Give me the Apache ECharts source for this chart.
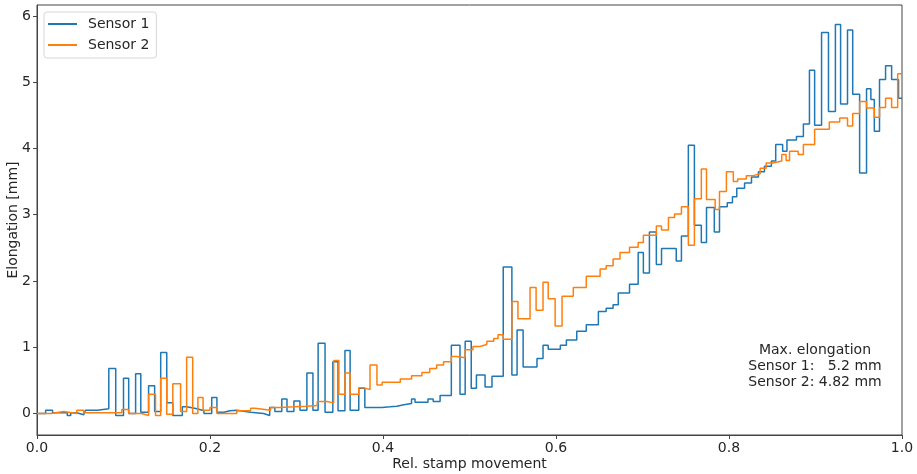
<!DOCTYPE html>
<html>
<head>
<meta charset="utf-8">
<script src="https://cdn.jsdelivr.net/npm/echarts@6/dist/echarts.min.js"></script>
<style>
html, body { margin: 0; padding: 0; background: #fff; }
#chart { width: 917px; height: 474px; }
</style>
</head>
<body>
<div id="chart"></div>
<script>
// [rel. stamp movement, elongation] -- value holds until the next point
var sensor1 = [
    [0.000, 0.00], [0.010, 0.05], [0.018, 0.01], [0.035, -0.03], [0.039, 0.01],
    [0.046, -0.02], [0.054, 0.01], [0.056, 0.05], [0.070, 0.07], [0.083, 0.68],
    [0.091, -0.03], [0.100, 0.53], [0.106, 0.00], [0.114, 0.60], [0.120, 0.02],
    [0.129, 0.42], [0.136, 0.03], [0.143, 0.92], [0.150, 0.16], [0.157, -0.03],
    [0.168, 0.10], [0.173, 0.07], [0.185, 0.04], [0.193, 0.00], [0.202, 0.24],
    [0.208, 0.02], [0.216, 0.04], [0.223, 0.05], [0.231, 0.02], [0.247, 0.00],
    [0.262, -0.03], [0.269, 0.09], [0.275, 0.03], [0.283, 0.22], [0.289, 0.03],
    [0.297, 0.19], [0.304, 0.05], [0.312, 0.61], [0.319, 0.05], [0.325, 1.06],
    [0.333, 0.02], [0.342, 0.78], [0.348, 0.04], [0.356, 0.95], [0.362, 0.05],
    [0.372, 0.38], [0.379, 0.09], [0.399, 0.10], [0.408, 0.11], [0.416, 0.13],
    [0.424, 0.15], [0.433, 0.22], [0.437, 0.17], [0.452, 0.22], [0.458, 0.18],
    [0.466, 0.27], [0.479, 1.03], [0.489, 0.29], [0.495, 1.09], [0.502, 0.38],
    [0.508, 0.58], [0.518, 0.40], [0.526, 0.56], [0.539, 2.21], [0.549, 0.58],
    [0.555, 1.26], [0.562, 0.70], [0.578, 0.83], [0.585, 1.03], [0.591, 0.97],
    [0.605, 1.03], [0.612, 1.11], [0.624, 1.24], [0.635, 1.34], [0.649, 1.54],
    [0.658, 1.59], [0.666, 1.64], [0.672, 1.82], [0.685, 1.95], [0.695, 2.43],
    [0.701, 2.12], [0.708, 2.74], [0.716, 2.25], [0.722, 2.49], [0.739, 2.30],
    [0.745, 2.68], [0.753, 4.05], [0.760, 2.84], [0.768, 2.58], [0.774, 3.11],
    [0.783, 2.74], [0.789, 3.12], [0.798, 3.18], [0.804, 3.27], [0.809, 3.40],
    [0.818, 3.48], [0.826, 3.57], [0.834, 3.65], [0.841, 3.73], [0.849, 3.81],
    [0.854, 4.06], [0.862, 3.96], [0.867, 4.13], [0.878, 4.18], [0.886, 4.37],
    [0.893, 5.18], [0.899, 4.35], [0.907, 5.75], [0.915, 4.56], [0.923, 5.87],
    [0.929, 4.67], [0.937, 5.79], [0.943, 4.82], [0.951, 3.63], [0.959, 4.90],
    [0.964, 4.74], [0.968, 4.26], [0.974, 5.04], [0.981, 5.25], [0.988, 5.04],
    [0.996, 4.76], [1.000, 4.76]
];

var sensor2 = [
    [0.000, 0.00], [0.016, 0.03], [0.031, 0.00], [0.046, 0.05], [0.054, 0.01],
    [0.098, 0.06], [0.106, 0.00], [0.121, -0.03], [0.129, 0.29], [0.137, -0.03],
    [0.143, 0.53], [0.150, -0.01], [0.157, 0.45], [0.166, 0.03], [0.173, 0.85],
    [0.180, 0.00], [0.186, 0.24], [0.192, 0.05], [0.200, 0.09], [0.208, 0.00],
    [0.231, 0.04], [0.247, 0.08], [0.252, 0.05], [0.270, 0.09], [0.281, 0.10],
    [0.297, 0.11], [0.312, 0.12], [0.324, 0.18], [0.335, 0.16], [0.343, 0.80],
    [0.349, 0.29], [0.356, 0.61], [0.362, 0.29], [0.372, 0.39], [0.377, 0.36],
    [0.385, 0.73], [0.393, 0.43], [0.399, 0.47], [0.420, 0.52], [0.433, 0.57],
    [0.445, 0.62], [0.454, 0.68], [0.462, 0.73], [0.470, 0.78], [0.479, 0.86],
    [0.485, 0.84], [0.495, 0.96], [0.504, 1.01], [0.512, 1.04], [0.520, 1.09],
    [0.528, 1.13], [0.533, 1.19], [0.539, 1.12], [0.549, 1.69], [0.556, 1.43],
    [0.570, 1.90], [0.577, 1.56], [0.585, 1.98], [0.591, 1.73], [0.599, 1.32],
    [0.607, 1.77], [0.620, 1.90], [0.635, 2.07], [0.651, 2.18], [0.658, 2.23],
    [0.666, 2.33], [0.674, 2.43], [0.685, 2.51], [0.695, 2.58], [0.701, 2.69],
    [0.716, 2.83], [0.722, 2.77], [0.730, 2.96], [0.737, 3.01], [0.745, 3.12],
    [0.753, 2.54], [0.760, 3.24], [0.768, 3.69], [0.774, 3.23], [0.784, 3.08],
    [0.789, 3.35], [0.797, 3.65], [0.805, 3.50], [0.810, 3.54], [0.820, 3.59],
    [0.828, 3.62], [0.836, 3.70], [0.843, 3.78], [0.851, 3.81], [0.861, 3.91],
    [0.866, 3.82], [0.870, 3.96], [0.880, 3.91], [0.886, 4.06], [0.899, 4.29],
    [0.916, 4.40], [0.928, 4.46], [0.937, 4.34], [0.943, 4.53], [0.951, 4.71],
    [0.959, 4.61], [0.968, 4.47], [0.974, 4.62], [0.981, 4.76], [0.988, 4.62],
    [0.995, 5.13], [1.000, 5.13]
];

var yTicks = [0, 1, 2, 3, 4, 5, 6];
var seriesNames = ['Sensor 1', 'Sensor 2'];
var noteText = 'Max. elongation\nSensor 1:   5.2 mm\nSensor 2: 4.82 mm';

var font = 'DejaVu Sans';
var axisColor = '#444';
var textColor = '#262626';

var myChart = echarts.init(document.getElementById('chart'));

var option = {
    animation: false,
    backgroundColor: '#fff',
    grid: {
        left: 37,
        right: 15,
        top: 5,
        bottom: 39,
        outerBoundsMode: 'none',
        containLabel: false,
        show: true,
        borderColor: axisColor,
        borderWidth: 1
    },
    legend: {
        data: seriesNames,
        orient: 'vertical',
        left: 44,
        top: 12,
        padding: [4, 7, 5, 4],
        itemGap: 5,
        itemWidth: 29,
        itemHeight: 2,
        icon: 'rect',
        backgroundColor: 'rgba(255,255,255,0.8)',
        borderColor: '#d6d6d6',
        borderWidth: 1,
        borderRadius: 3,
        textStyle: {
            fontFamily: font,
            fontSize: 14,
            color: textColor,
            lineHeight: 16,
            padding: [0, 0, 0, 6]
        }
    },
    xAxis: {
        type: 'value',
        min: 0,
        max: 1,
        interval: 0.2,
        name: 'Rel. stamp movement',
        nameLocation: 'middle',
        nameGap: 22,
        nameMoveOverlap: false,
        nameTextStyle: { fontFamily: font, fontSize: 14, color: textColor },
        axisLine: { show: true, onZero: false, lineStyle: { color: axisColor, width: 1 } },
        axisTick: { show: true, length: 4, lineStyle: { color: axisColor } },
        axisLabel: {
            fontFamily: font,
            fontSize: 14,
            color: textColor,
            margin: 6,
            formatter: function (v) { return v.toFixed(1); }
        },
        splitLine: { show: false }
    },
    yAxis: {
        type: 'value',
        min: -0.325,
        max: 6.166,
        name: 'Elongation [mm]',
        nameLocation: 'middle',
        nameGap: 17,
        nameMoveOverlap: false,
        nameTextStyle: { fontFamily: font, fontSize: 14, color: textColor },
        axisLine: { show: true, onZero: false, lineStyle: { color: axisColor, width: 1 } },
        axisTick: { show: true, length: 4, customValues: yTicks, lineStyle: { color: axisColor } },
        axisLabel: {
            fontFamily: font,
            fontSize: 14,
            color: textColor,
            margin: 6,
            customValues: yTicks,
            formatter: function (v) { return String(v); }
        },
        splitLine: { show: false }
    },
    series: [
        {
            name: seriesNames[0],
            type: 'line',
            step: 'end',
            symbol: 'none',
            color: '#1f77b4',
            lineStyle: { width: 1.5, color: '#1f77b4' },
            data: sensor1
        },
        {
            name: seriesNames[1],
            type: 'line',
            step: 'end',
            symbol: 'none',
            color: '#ff7f0e',
            lineStyle: { width: 1.5, color: '#ff7f0e' },
            data: sensor2
        }
    ],
    graphic: [
        {
            type: 'text',
            x: 815,
            y: 342,
            style: {
                text: noteText,
                fontFamily: font,
                fontSize: 14,
                lineHeight: 16,
                fill: textColor,
                align: 'center',
                textAlign: 'center',
                verticalAlign: 'top',
                textVerticalAlign: 'top'
            }
        }
    ]
};

myChart.setOption(option);
</script>
</body>
</html>
